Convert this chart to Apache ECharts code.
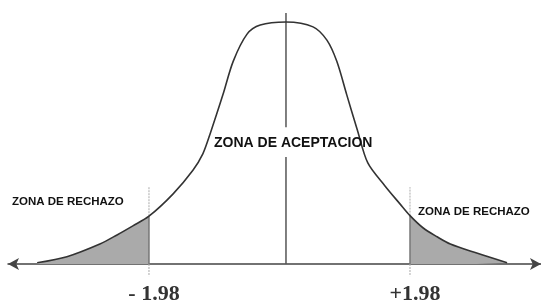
<!DOCTYPE html>
<html>
<head>
<meta charset="utf-8">
<script src="https://cdn.jsdelivr.net/npm/echarts@6/dist/echarts.min.js"></script>
<style>
  html, body { margin: 0; padding: 0; background: #fff; }
  #chart { width: 541px; height: 306px; }
</style>
</head>
<body>
<div id="chart"></div>
<script>
// curve (z units, density-like height)
var curveX = [-3.77, -3.32, -2.82, -2.56, -2.32, -2.076, -1.71, -1.41, -1.26, -1.15, -0.955, -0.80, -0.59, -0.39, 0,
  0.41, 0.62, 0.77, 0.92, 1.08, 1.24, 1.50, 1.73, 1.879, 2.08, 2.29, 2.49, 2.89, 3.35]
var curveY = [0.002, 0.012, 0.033, 0.048, 0.063, 0.079, 0.116, 0.155, 0.182, 0.215, 0.280, 0.335, 0.380, 0.395, 0.400,
  0.392, 0.370, 0.335, 0.280, 0.222, 0.167, 0.129, 0.099, 0.080, 0.0595, 0.045, 0.033, 0.018, 0.002]
// critical values as placed in the sketch, and their labels
var critX = [-2.076, 1.879]
var critLabels = ['- 1.98', '+1.98']
var zoneLabels = ['ZONA DE RECHAZO', 'ZONA DE ACEPTACION', 'ZONA DE RECHAZO']

var curve = curveX.map(function (x, i) { return [x, curveY[i]] })
var leftTail = curve.filter(function (p) { return p[0] <= critX[0] })
var rightTail = curve.filter(function (p) { return p[0] >= critX[1] })
function heightAt(x) {
  for (var i = 0; i < curve.length; i++) if (curve[i][0] === x) return curve[i][1]
  return 0
}

var chart = echarts.init(document.getElementById('chart'))
var critSeries = []
critX.forEach(function (c) {
  critSeries.push({
    type: 'line', symbol: 'none', silent: true, z: 4,
    lineStyle: { color: '#777', width: 1.5 },
    data: [[c, 0], [c, heightAt(c)]]
  })
  critSeries.push({
    type: 'line', symbol: 'none', silent: true, z: 4,
    lineStyle: { color: '#aaa', width: 1, type: [2, 1] },
    data: [[c, heightAt(c)], [c, 0.127]]
  })
  critSeries.push({
    type: 'line', symbol: 'none', silent: true, z: 4, clip: false,
    lineStyle: { color: '#aaa', width: 1, type: [2, 1] },
    data: [[c, 0], [c, -0.02]]
  })
})

var curveStyle = { type: 'line', symbol: 'none', smooth: 0.3, silent: true }

chart.setOption({
  backgroundColor: '#fff',
  animation: false,
  grid: { left: 8, right: 0, top: 0, bottom: 42, outerBoundsMode: 'none', containLabel: false },
  xAxis: {
    type: 'value',
    min: -4.212,
    max: 3.864,
    axisLine: {
      lineStyle: { color: '#444', width: 1.5 },
      symbol: ['arrow', 'arrow'],
      symbolSize: [9, 11]
    },
    axisTick: { show: false },
    splitLine: { show: false },
    axisLabel: {
      customValues: critX,
      margin: 19,
      padding: [0, 0, 0, 10],
      fontFamily: 'Liberation Serif',
      fontWeight: 'bold',
      fontSize: 22,
      color: '#333',
      formatter: function (v) {
        var i = critX.indexOf(v)
        return i >= 0 ? critLabels[i] : ''
      }
    }
  },
  yAxis: {
    type: 'value',
    min: 0,
    max: 0.4364,
    show: false
  },
  series: [
    Object.assign({}, curveStyle, {
      z: 2, lineStyle: { width: 0 },
      areaStyle: { color: '#aaaaaa', opacity: 1 },
      data: leftTail
    }),
    Object.assign({}, curveStyle, {
      z: 2, lineStyle: { width: 0 },
      areaStyle: { color: '#aaaaaa', opacity: 1 },
      data: rightTail
    }),
    Object.assign({}, curveStyle, {
      z: 5, lineStyle: { color: '#333', width: 1.6 },
      data: curve
    }),
    {
      type: 'line', symbol: 'none', silent: true, z: 4,
      lineStyle: { color: '#555', width: 1.5 },
      data: [[0, 0], [0, 0.177]]
    },
    {
      type: 'line', symbol: 'none', silent: true, z: 4,
      lineStyle: { color: '#555', width: 1.5 },
      data: [[0, 0.226], [0, 0.415]]
    }
  ].concat(critSeries),
  graphic: [
    {
      type: 'text', left: 12, top: 196, z: 10,
      style: { text: zoneLabels[0], font: 'bold 11.5px "Liberation Sans"', fill: '#111' }
    },
    {
      type: 'text', left: 214, top: 136, z: 10,
      style: { text: zoneLabels[1], font: 'bold 14px "Liberation Sans"', fill: '#111' }
    },
    {
      type: 'text', left: 418, top: 206, z: 10,
      style: { text: zoneLabels[2], font: 'bold 11.5px "Liberation Sans"', fill: '#111' }
    }
  ]
})
</script>
</body>
</html>
